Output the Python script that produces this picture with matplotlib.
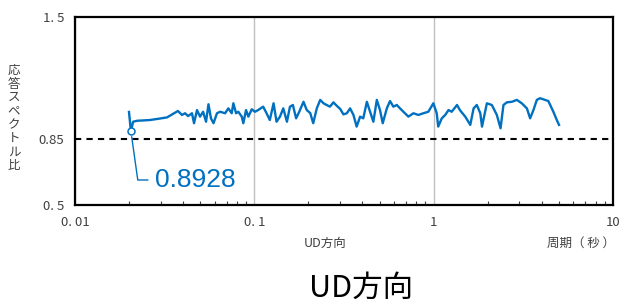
import matplotlib
matplotlib.use("Agg")
import matplotlib.pyplot as plt
from matplotlib.ticker import FixedLocator, LogLocator, NullFormatter

plt.rcParams['font.family'] = ['Noto Sans CJK JP', 'DejaVu Sans']

# response spectrum ratio (UD direction)
periods = [0.02, 0.0205, 0.0211, 0.0222, 0.0262, 0.0298, 0.0326, 0.0348, 0.0375, 0.0395,
           0.0411, 0.0427, 0.0449, 0.0461, 0.0479, 0.0498, 0.0518, 0.0538, 0.0555, 0.0573,
           0.0592, 0.0619, 0.0644, 0.0687, 0.0716, 0.0748, 0.0764, 0.0791, 0.0814, 0.0851,
           0.0868, 0.0899, 0.0926, 0.0967, 0.1009, 0.105, 0.112, 0.117, 0.122, 0.128,
           0.133, 0.139, 0.145, 0.152, 0.158, 0.164, 0.171, 0.178, 0.188, 0.196,
           0.205, 0.213, 0.223, 0.233, 0.243, 0.253, 0.264, 0.276, 0.288, 0.301,
           0.314, 0.328, 0.342, 0.357, 0.372, 0.389, 0.405, 0.424, 0.442, 0.461,
           0.482, 0.502, 0.520, 0.548, 0.571, 0.596, 0.623, 0.649, 0.678, 0.723,
           0.771, 0.822, 0.876, 0.934, 0.996, 1.04, 1.06, 1.11, 1.16, 1.21,
           1.26, 1.35, 1.40, 1.50, 1.60, 1.67, 1.74, 1.82, 1.86, 1.98,
           2.11, 2.25, 2.36, 2.45, 2.56, 2.73, 2.91, 3.10, 3.31, 3.45,
           3.60, 3.76, 3.92, 4.18, 4.36, 4.65, 4.86, 5.00]
ratios = [0.995, 0.8928, 0.943, 0.948, 0.952, 0.960, 0.966, 0.982, 1.000, 0.979,
          0.988, 0.973, 0.988, 0.935, 1.005, 0.970, 0.996, 0.943, 1.036, 0.961,
          0.935, 0.988, 0.996, 0.988, 1.014, 0.988, 1.041, 0.988, 0.996, 0.970,
          0.935, 1.005, 0.970, 1.009, 0.996, 1.005, 1.023, 0.988, 0.952, 1.041,
          0.943, 0.970, 1.014, 0.943, 1.023, 1.032, 0.961, 0.996, 1.049, 1.005,
          0.989, 0.935, 1.014, 1.059, 1.041, 1.032, 1.023, 1.046, 1.028, 1.011,
          0.982, 0.988, 1.014, 0.979, 0.917, 0.970, 0.961, 1.049, 0.996, 0.943,
          1.059, 1.005, 0.935, 1.014, 1.053, 1.023, 1.032, 1.014, 0.996, 0.970,
          0.988, 0.979, 0.988, 0.996, 1.041, 0.988, 0.917, 0.961, 0.979, 1.005,
          0.996, 1.032, 1.005, 0.970, 0.926, 1.014, 1.032, 0.988, 0.917, 1.041,
          1.032, 0.979, 0.908, 1.032, 1.046, 1.049, 1.059, 1.041, 1.014, 0.961,
          1.005, 1.059, 1.068, 1.059, 1.053, 0.996, 0.952, 0.926]

threshold = 0.85
min_label = "0.8928"
x_ticks = [0.01, 0.1, 1, 10]
x_ticklabels = ["0. 01", "0. 1", "1", "10"]
y_ticks = [0.5, 0.85, 1.5]
y_ticklabels = ["0. 5", "0.85", "1. 5"]

blue = "#0070C0"

fig = plt.figure(figsize=(6.21, 3.03), dpi=100)
ax = fig.add_axes([75 / 621, 98 / 303, 538 / 621, 188 / 303])

ax.plot(periods, ratios, color=blue, lw=1.7, zorder=3)
ax.axhline(threshold, color="black", lw=1.5, ls=(0, (3, 2.5)), zorder=2)

# minimum point with callout
i_min = ratios.index(min(ratios))
ax.plot(periods[i_min], ratios[i_min], "o", mfc="white", mec=blue, ms=5, mew=1.1, zorder=4)
ax.annotate(min_label, xy=(periods[i_min], ratios[i_min]), xytext=(0.0279, 0.633),
            color=blue, fontsize=19, va="center", ha="left",
            family=["Liberation Sans", "DejaVu Sans"],
            arrowprops=dict(arrowstyle="-", color=blue, lw=1,
                            connectionstyle="angle,angleA=0,angleB=98,rad=0",
                            shrinkA=3, shrinkB=4))

ax.set_xscale("log")
ax.set_xlim(0.01, 10)
ax.set_ylim(0.5, 1.5)

ax.xaxis.set_major_locator(FixedLocator(x_ticks))
ax.set_xticklabels(x_ticklabels)
ax.xaxis.set_minor_locator(LogLocator(base=10, subs=range(2, 10)))
ax.xaxis.set_minor_formatter(NullFormatter())
ax.tick_params(axis="x", which="major", length=0, pad=8, labelsize=9.5, labelcolor="#404040")
ax.tick_params(axis="x", which="minor", direction="in", length=3, width=0.8, color="#404040")
ax.set_yticks(y_ticks)
ax.set_yticklabels(y_ticklabels)
ax.tick_params(axis="y", length=0, pad=8, labelsize=9.5, labelcolor="#404040")

ax.grid(axis="x", which="major", color="#BFBFBF", lw=1)
for s in ax.spines.values():
    s.set_color("black")
    s.set_linewidth(1.6)

fig.text(14 / 621, 1 - 118 / 303, "\n".join("応答スペクトル比"), ha="center", va="center",
         fontsize=9, linespacing=1.05, color="#404040")
fig.text(325 / 621, 1 - 243 / 303, "UD方向", ha="center", va="center", fontsize=9, color="#404040")
fig.text(547 / 621, 1 - 243 / 303, "周期（ 秒 ）", ha="left", va="center", fontsize=9, color="#404040")
fig.text(361 / 621, 1 - 288 / 303, "UD方向", ha="center", va="center", fontsize=22, color="black")

fig.savefig("out.png", dpi=100)
